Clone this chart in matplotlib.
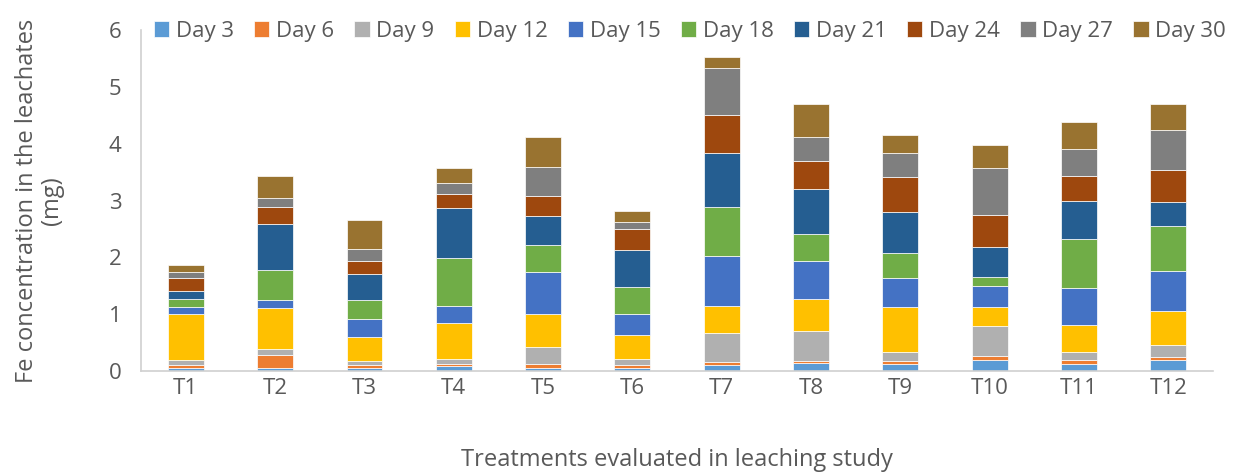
import numpy as np
import matplotlib
matplotlib.use("Agg")
import matplotlib.pyplot as plt

# Treatments and series (Fe in leachates, mg)
treatments = ['T1', 'T2', 'T3', 'T4', 'T5', 'T6', 'T7', 'T8', 'T9', 'T10', 'T11', 'T12']
days = ['Day 3', 'Day 6', 'Day 9', 'Day 12', 'Day 15', 'Day 18', 'Day 21', 'Day 24', 'Day 27', 'Day 30']

day3 = [0.06, 0.05, 0.05, 0.08, 0.06, 0.06, 0.11, 0.14, 0.13, 0.19, 0.13, 0.20]
day6 = [0.04, 0.24, 0.05, 0.05, 0.06, 0.04, 0.05, 0.04, 0.05, 0.07, 0.06, 0.05]
day9 = [0.10, 0.10, 0.07, 0.08, 0.31, 0.11, 0.51, 0.53, 0.16, 0.54, 0.14, 0.20]
day12 = [0.81, 0.72, 0.42, 0.64, 0.58, 0.43, 0.48, 0.55, 0.79, 0.32, 0.48, 0.60]
day15 = [0.12, 0.14, 0.33, 0.29, 0.74, 0.37, 0.88, 0.67, 0.50, 0.37, 0.65, 0.71]
day18 = [0.13, 0.52, 0.33, 0.85, 0.46, 0.47, 0.85, 0.48, 0.44, 0.17, 0.86, 0.79]
day21 = [0.15, 0.82, 0.46, 0.88, 0.52, 0.65, 0.96, 0.80, 0.73, 0.53, 0.67, 0.43]
day24 = [0.22, 0.29, 0.23, 0.24, 0.35, 0.36, 0.67, 0.49, 0.62, 0.56, 0.44, 0.56]
day27 = [0.12, 0.17, 0.21, 0.19, 0.51, 0.14, 0.83, 0.41, 0.41, 0.83, 0.48, 0.70]
day30 = [0.11, 0.38, 0.50, 0.28, 0.53, 0.18, 0.18, 0.58, 0.33, 0.39, 0.47, 0.46]

series = [day3, day6, day9, day12, day15, day18, day21, day24, day27, day30]
colors = ['#5B9BD5', '#ED7D31', '#B0B0B0', '#FFC000', '#4472C4',
          '#70AD47', '#255E91', '#9E480E', '#7F7F7F', '#997330']

plt.rcParams['font.family'] = ['Open Sans', 'DejaVu Sans']
text_color = '#595959'

fig = plt.figure(figsize=(12.46, 4.74), dpi=100)
ax = fig.add_axes([0.1132, 0.2173, 0.8603, 0.7194])

x = np.arange(len(treatments))
bottom = np.zeros(len(treatments))
for name, vals, col in zip(days, series, colors):
    ax.bar(x, vals, 0.4, bottom=bottom, color=col, label=name,
           edgecolor='white', linewidth=0.5)
    bottom += np.array(vals)

ax.set_xlim(-0.5, len(treatments) - 0.5)
ax.set_ylim(0, 6)
ax.set_xticks(x)
ax.set_xticklabels(treatments)
ax.set_yticks(range(0, 7))
ax.tick_params(axis='both', length=0, labelsize=16, colors=text_color)
ax.tick_params(axis='x', pad=5)
ax.tick_params(axis='y', pad=14)

for s in ['top', 'right']:
    ax.spines[s].set_visible(False)
for s in ['left', 'bottom']:
    ax.spines[s].set_color('#D0D0D0')
    ax.spines[s].set_linewidth(1.2)

ax.set_ylabel('Fe concentration in the leachates\n(mg)', fontsize=17,
              color=text_color, labelpad=32, linespacing=1.1)
ax.set_xlabel('Treatments evaluated in leaching study', fontsize=17,
              color=text_color, labelpad=35)

ax.legend(loc='upper center', bbox_to_anchor=(0.512, 1.085), ncol=10,
          frameon=False, fontsize=16, handlelength=0.7, handleheight=0.7,
          handletextpad=0.3, columnspacing=0.9, labelcolor=text_color)

fig.savefig('out.png', dpi=100)
